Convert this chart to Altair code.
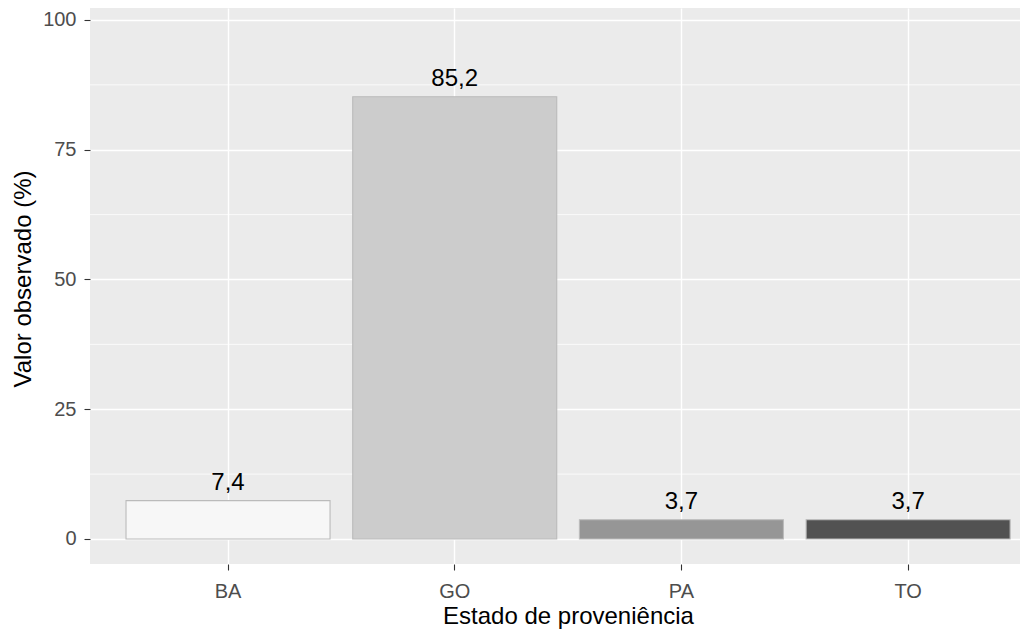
import altair as alt
import pandas as pd

# Data
estados = ["BA", "GO", "PA", "TO"]
valores = [7.4, 85.2, 3.7, 3.7]
cores = ["#F7F7F7", "#CCCCCC", "#969696", "#525252"]
y_ticks = [0, 25, 50, 75, 100]
y_minor = [12.5, 37.5, 62.5, 87.5]

df = pd.DataFrame({"estado": estados, "valor": valores})
df["rotulo"] = [f"{v:.1f}".replace(".", ",") for v in valores]
minor_df = pd.DataFrame({"m": y_minor})

FONT = "Liberation Sans"

yscale = alt.Scale(domain=[-4.82, 102.31], nice=False, zero=False)
xscale = alt.Scale(domain=estados, paddingInner=0.1, paddingOuter=0.1012, align=0.785)

y_axis = alt.Axis(
    title="Valor observado (%)", values=y_ticks, grid=True, gridColor="white",
    gridWidth=1.4, domain=False, tickSize=6, tickColor="#333333", tickWidth=1.1,
    labelFont=FONT, labelFontSize=20, labelColor="#4D4D4D", labelPadding=8,
    titleFont=FONT, titleFontSize=24, titleFontWeight="normal", titleColor="#000000",
    titleAngle=270, titleX=-60, titleY=270.5, titleAlign="center",
    titleBaseline="alphabetic",
)
x_axis = alt.Axis(
    title="Estado de proveniência", labelAngle=0, grid=True, gridColor="white",
    gridWidth=1.4, domain=False, tickSize=6, tickColor="#333333", tickWidth=1.1,
    bandPosition=0.5,
    labelFont=FONT, labelFontSize=20, labelColor="#4D4D4D", labelPadding=11,
    titleFont=FONT, titleFontSize=24, titleFontWeight="normal", titleColor="#000000",
    titleX=478, titleY=59, titleAlign="center", titleBaseline="alphabetic",
)

minor = alt.Chart(minor_df).mark_rule(color="white", strokeWidth=0.75).encode(
    y=alt.Y("m:Q", scale=yscale, axis=y_axis)
)

bars = alt.Chart(df).mark_bar(stroke="#BBBBBB", strokeWidth=1.1).encode(
    x=alt.X("estado:N", scale=xscale, sort=estados, axis=x_axis),
    y=alt.Y("valor:Q", scale=yscale, axis=y_axis),
    color=alt.Color("estado:N", scale=alt.Scale(domain=estados, range=cores), legend=None),
)

text = alt.Chart(df).mark_text(
    font=FONT, fontSize=24, color="#000000", baseline="alphabetic", dy=-10.5
).encode(
    x=alt.X("estado:N", scale=xscale, sort=estados, axis=x_axis),
    y=alt.Y("valor:Q", scale=yscale, axis=y_axis),
    text="rotulo:N",
)

chart = alt.layer(minor, bars, text).properties(
    width=930, height=556,
    autosize=alt.AutoSizeParams(type="none"),
    padding={"left": 82, "top": 0, "right": 0, "bottom": 66},
).configure_view(fill="#EBEBEB", stroke=None)

chart.save("out.html", embed_options={"renderer": "svg", "actions": False})
